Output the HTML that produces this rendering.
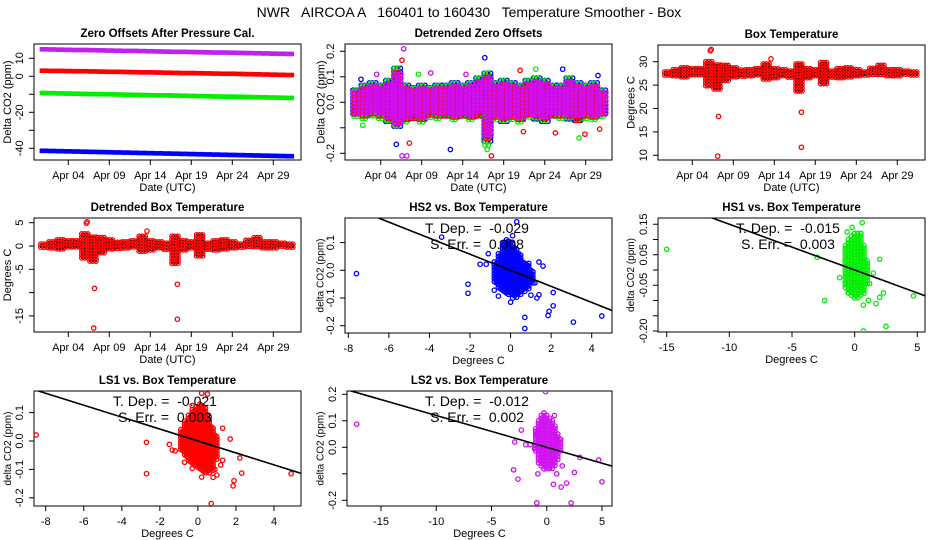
<!DOCTYPE html>
<html><head><meta charset="utf-8"><style>
html,body{margin:0;padding:0;background:#fff;}
svg{display:block;font-family:"Liberation Sans",Arial,sans-serif;}
</style></head><body>
<svg id="chart" width="936" height="540" viewBox="0 0 936 540" xmlns="http://www.w3.org/2000/svg">
<rect x="0" y="0" width="936" height="540" fill="#fff"/>
<text x="469" y="17" text-anchor="middle" font-size="14" style="white-space:pre">NWR   AIRCOA A   160401 to 160430   Temperature Smoother - Box</text>
</svg>
<script>
// ---- data ----
const dateTicks = [3, 8, 13, 18, 23, 28];
const dateTickLabels = ["Apr 04", "Apr 09", "Apr 14", "Apr 19", "Apr 24", "Apr 29"];
const ls2Offset = [15.0,14.9,14.8,14.7,14.6,14.6,14.5,14.4,14.3,14.2,14.1,14.1,14.0,13.9,13.8,13.7,13.6,13.6,13.5,13.4,13.3,13.2,13.2,13.1,13.0,12.9,12.8,12.7,12.6,12.5,12.4];
const ls1Offset = [3.1,3.0,3.0,2.9,2.8,2.8,2.7,2.6,2.5,2.5,2.4,2.3,2.2,2.2,2.1,2.0,1.9,1.8,1.8,1.7,1.6,1.5,1.4,1.4,1.3,1.2,1.1,1.0,0.9,0.8,0.7];
const hs1Offset = [-9.3,-9.4,-9.5,-9.6,-9.7,-9.8,-9.9,-9.9,-10.0,-10.1,-10.2,-10.3,-10.4,-10.5,-10.6,-10.6,-10.7,-10.8,-10.9,-11.0,-11.1,-11.2,-11.3,-11.3,-11.4,-11.5,-11.6,-11.7,-11.8,-11.9,-12.0];
const hs2Offset = [-41.4,-41.5,-41.6,-41.7,-41.8,-41.9,-42.0,-42.1,-42.2,-42.3,-42.4,-42.5,-42.6,-42.7,-42.8,-42.9,-43.0,-43.1,-43.2,-43.3,-43.4,-43.5,-43.6,-43.7,-43.8,-43.9,-44.0,-44.1,-44.2,-44.3,-44.4];
const detrendLo = [-0.06,-0.07,-0.06,-0.07,-0.08,-0.1,-0.08,-0.07,-0.08,-0.06,-0.07,-0.06,-0.07,-0.06,-0.07,-0.06,-0.17,-0.07,-0.08,-0.07,-0.08,-0.06,-0.07,-0.08,-0.06,-0.07,-0.07,-0.08,-0.07,-0.07,-0.06];
const detrendHi = [0.05,0.07,0.08,0.07,0.09,0.14,0.07,0.06,0.07,0.06,0.07,0.07,0.08,0.07,0.08,0.1,0.12,0.08,0.09,0.08,0.07,0.09,0.1,0.09,0.07,0.07,0.1,0.08,0.07,0.08,0.05];
const detrendOutT = [4.9,11.5,15.7,25.2,29.5,0.6,0.8,7.6,27.2,21.9,16.0,16.5,6.5,5.6,24.3,29.7,27.9,20.4,20.0,5.8,5.6,6.2,9.1,2.5,13.4];
const detrendOutV = [-0.165,-0.185,0.175,0.13,0.105,0.09,-0.09,0.11,-0.14,0.13,-0.185,-0.21,-0.16,0.165,-0.12,-0.105,-0.125,-0.115,0.125,0.21,-0.21,-0.21,0.115,0.11,0.11];
const detrendOutSeries = [3,3,3,3,3,3,2,2,2,2,2,1,1,1,1,1,1,1,1,0,0,0,0,0,0];
const boxLo = [26.8,26.5,26.6,26.8,26.8,24.8,23.8,25.5,26.5,26.8,26.8,26.6,26.3,26.5,26.7,26.7,23.5,26.5,26.6,25.0,26.7,26.0,26.5,26.5,26.8,26.7,26.8,26.9,26.9,26.9,26.9];
const boxHi = [27.8,28.3,28.7,28.5,28.5,30.0,29.3,29.2,28.7,28.2,28.3,28.5,29.5,28.5,28.3,28.0,29.5,28.5,28.3,29.8,28.0,28.5,28.7,28.3,27.8,28.6,29.2,28.3,28.3,28.0,27.8];
const boxOutT = [5.2,5.3,6.2,6.1,12.6,16.3,16.3,16.0];
const boxOutV = [32.3,32.6,18.3,9.8,30.6,19.2,11.7,24.0];
const boxTrend = 27.4;
// scatter panels
const hs2CoreX = [-0.8,-0.6,-0.4,-0.2,0,0.2,0.4,0.6,0.8,1.0];
const hs2CoreLo = [-0.05,-0.07,-0.08,-0.09,-0.09,-0.1,-0.09,-0.08,-0.07,-0.05];
const hs2CoreHi = [0.03,0.06,0.1,0.11,0.1,0.08,0.06,0.03,0.02,0.0];
const hs2OutX = [-7.6,-3.4,-2.1,-2.1,-1.5,-1.2,-1.1,-0.8,-0.6,0.3,0.1,0,0.1,0.7,0.7,1.0,1.3,1.4,1.4,1.6,1.2,2.1,2.1,1.9,1.85,3.1,4.5,0.9,0.8];
const hs2OutY = [-0.012,0.12,-0.05,-0.083,0.022,0.022,0.06,-0.072,-0.093,0.175,0.125,-0.115,-0.1,-0.17,-0.21,-0.09,-0.1,-0.088,0.03,0.015,-0.045,-0.08,-0.128,-0.148,-0.163,-0.187,-0.165,0.025,0.02];
const hs1CoreX = [-0.75,-0.5,-0.25,0,0.25,0.5,0.75,1.0];
const hs1CoreLo = [-0.06,-0.08,-0.09,-0.1,-0.1,-0.09,-0.08,-0.05];
const hs1CoreHi = [0.08,0.1,0.11,0.12,0.12,0.12,0.08,0.03];
const hs1OutX = [-15.0,-3.0,-2.4,-1.2,-0.5,-0.6,1.7,2.0,2.3,2.0,2.5,0.7,0.7,1.1,4.7,0.6,1.5,1.2,1.0,-0.2];
const hs1OutY = [0.068,0.042,-0.1,-0.025,-0.075,0.125,-0.11,0.035,-0.075,-0.09,-0.185,-0.2,-0.115,-0.1,-0.085,0.155,-0.01,-0.045,0.02,0.14];
const ls1CoreX = [-0.9,-0.7,-0.5,-0.3,-0.1,0.1,0.3,0.5,0.7,0.9];
const ls1CoreLo = [-0.03,-0.05,-0.07,-0.08,-0.09,-0.1,-0.11,-0.11,-0.1,-0.06];
const ls1CoreHi = [0.04,0.07,0.09,0.11,0.12,0.13,0.12,0.09,0.05,0.02];
const ls1OutX = [-8.5,-2.7,-2.7,-1.5,-1.35,-1.2,-0.9,-0.7,-0.3,0.2,0.7,0.8,1.0,1.2,1.3,1.3,1.7,2.2,2.3,1.9,1.85,4.9,0.2,0.5,-0.3,0.9];
const ls1OutY = [0.021,-0.005,-0.115,-0.012,-0.032,-0.035,-0.03,-0.075,-0.097,-0.127,-0.22,-0.128,-0.12,-0.085,-0.068,0.045,0.007,-0.06,-0.113,-0.14,-0.158,-0.115,0.168,0.165,0.125,-0.1];
const ls2CoreX = [-1.0,-0.75,-0.5,-0.25,0,0.25,0.5,0.75,1.0,1.25];
const ls2CoreLo = [-0.02,-0.06,-0.08,-0.09,-0.09,-0.09,-0.08,-0.07,-0.05,-0.02];
const ls2CoreHi = [0.06,0.1,0.12,0.13,0.12,0.11,0.1,0.08,0.05,0.03];
const ls2OutX = [-17.2,-2.9,-3.0,-2.6,-2.3,-1.9,-1.5,-1.0,-0.9,-0.8,-1.1,-0.9,-0.1,0.7,0.6,1.3,1.4,1.8,2.2,2.5,3.0,4.7,5.0,1.2,0.9];
const ls2OutY = [0.087,0.02,-0.085,-0.12,0.065,0.01,0.01,0.07,0.05,-0.1,-0.005,-0.21,0.21,0.12,-0.14,-0.15,-0.07,-0.135,-0.21,-0.095,-0.038,-0.048,-0.13,0.03,-0.1];
const slopes = [-0.029, -0.015, -0.021, -0.012];
const slopeLabels = ["T. Dep. =  -0.029", "T. Dep. =  -0.015", "T. Dep. =  -0.021", "T. Dep. =  -0.012"];
const errLabels = ["S. Err. =  0.008", "S. Err. =  0.003", "S. Err. =  0.003", "S. Err. =  0.002"];

// ---- helpers ----
const NS = "http://www.w3.org/2000/svg";
const svg = document.getElementById('chart');
function mk(tag, attrs, parent){
  const e = document.createElementNS(NS, tag);
  for (const k in attrs) e.setAttribute(k, attrs[k]);
  (parent || svg).appendChild(e);
  return e;
}
function lin(d0, p0, d1, p1){ return v => p0 + (v - d0) * (p1 - p0) / (d1 - d0); }
const COLORS = {red:'#ff0000', green:'#00ee00', blue:'#0000ff', purple:'#d010f0'};

function frame(P){
  const g = mk('g', {});
  
  
  const cp = mk('clipPath', {id: P.name + '-clip'}, g);
  mk('rect', {x: P.x0, y: P.y0, width: P.x1 - P.x0, height: P.y1 - P.y0}, cp);
  const t = mk('text', {x: (P.x0 + P.x1) / 2, y: P.y0 - 7, 'text-anchor': 'middle', 'font-size': 11.5, 'font-weight': 'bold'}, g);
  t.textContent = P.title;
  
  
  const box = mk('rect', {x: P.x0, y: P.y0, width: P.x1 - P.x0, height: P.y1 - P.y0, fill: 'none', stroke: '#000', 'stroke-width': 1}, g);
  
  
  P.xt.forEach((v, i) => {
    const x = P.xs(v);
    const tk = mk('line', {x1: x, x2: x, y1: P.y1, y2: P.y1 + 5, stroke: '#000'}, g);
    
    
    const lb = mk('text', {x: x, y: P.y1 + 19, 'text-anchor': 'middle', 'font-size': 11}, g);
    lb.textContent = P.xl[i];
    
    
  });
  P.yt.forEach((v, i) => {
    const y = P.ys(v);
    const tk = mk('line', {x1: P.x0 - 5, x2: P.x0, y1: y, y2: y, stroke: '#000'}, g);
    
    
    if (P.yl[i] !== '') {
      const lb = mk('text', {x: 0, y: 0, 'text-anchor': 'middle', 'font-size': 11, transform: `translate(${P.x0 - 11},${y}) rotate(-90)`}, g);
      lb.textContent = P.yl[i];
      
      
    }
  });
  const xt = mk('text', {x: (P.x0 + P.x1) / 2, y: P.y1 + 31, 'text-anchor': 'middle', 'font-size': 11}, g);
  xt.textContent = P.xtitle;
  
  
  const yt = mk('text', {x: 0, y: 0, 'text-anchor': 'middle', 'font-size': P.ytsize || 11, transform: `translate(${P.ytx},${(P.y0 + P.y1) / 2}) rotate(-90)`}, g);
  yt.textContent = P.ytitle;
  
  
  const plot = mk('g', {'clip-path': `url(#${P.name}-clip)`}, g);
  
  
  return plot;
}
function pt(g, x, y, color){
  const c = mk('circle', {cx: x.toFixed(1), cy: y.toFixed(1), r: 2.2, fill: 'none', stroke: color, 'stroke-width': 1.3}, g);
  
  
  return c;
}

// ---- Panel A: zero offsets ----
const A = {name: 'panel-zero-offsets', title: 'Zero Offsets After Pressure Cal.', x0: 34, x1: 301, y0: 44, y1: 160,
  xs: lin(3, 68.3, 28, 273.3), ys: lin(0, 76.3, 10, 58.3),
  xt: dateTicks, xl: dateTickLabels, yt: [-40,-30,-20,-10,0,10], yl: ['-40','','-20','','0','10'],
  xtitle: 'Date (UTC)', ytitle: 'Delta CO2 (ppm)', ytx: 11};
const gA = frame(A);
[[ls2Offset, '#c020f0', 'band-ls2'], [ls1Offset, COLORS.red, 'band-ls1'], [hs1Offset, COLORS.green, 'band-hs1'], [hs2Offset, COLORS.blue, 'band-hs2']].forEach(([arr, col, nm]) => {
  arr.forEach((v, i) => {
    const xa = A.xs(i - 0.5), xb = A.xs(i + 0.5);
    const r = mk('rect', {x: xa, y: A.ys(v + 1.3), width: xb - xa + 0.3, height: A.ys(v - 1.3) - A.ys(v + 1.3), fill: col}, gA);
    
    
  });
});

// ---- Panel B: detrended zero offsets ----
const B = {name: 'panel-detrended-zero', title: 'Detrended Zero Offsets', x0: 345, x1: 612, y0: 44, y1: 160,
  xs: lin(3, 380.7, 28, 585.7), ys: lin(0, 102.3, 0.1, 76.8),
  xt: dateTicks, xl: dateTickLabels, yt: [-0.2,-0.1,0,0.1,0.2], yl: ['-0.2','','0.0','0.1','0.2'],
  xtitle: 'Date (UTC)', ytitle: 'Delta CO2 (ppm)', ytx: 324.5};
const gB = frame(B);
const layerCols = [COLORS.blue, COLORS.green, COLORS.red, COLORS.purple];
const layerScale = [0.95, 1.0, 0.9, 0.8];
const layerShift = [0, 1.5, 2.5, 0.8];
const layerStep = [3.4, 3.6, 3.4, 4.0];
layerCols.forEach((col, li) => {
  detrendLo.forEach((lo, i) => {
    const hi = detrendHi[i];
    const ytop = B.ys(hi * layerScale[li]), ybot = B.ys(lo * layerScale[li]);
    for (let x = B.xs(i - 0.5) + 1 + layerShift[li] * 0.6; x < B.xs(i + 0.5); x += 3.2) {
      for (let y = ytop + layerShift[li]; y <= ybot; y += layerStep[li]) pt(gB, x, y, col);
    }
  });
});
detrendOutT.forEach((t, i) => pt(gB, B.xs(t), B.ys(detrendOutV[i]), [COLORS.purple, COLORS.red, COLORS.green, COLORS.blue][detrendOutSeries[i]]));

// ---- Panel C: box temperature ----
const C = {name: 'panel-box-temperature', title: 'Box Temperature', x0: 658, x1: 925, y0: 45, y1: 160,
  xs: lin(3, 692.3, 28, 897.3), ys: lin(30, 61.7, 10, 155.3),
  xt: dateTicks, xl: dateTickLabels, yt: [10,15,20,25,30], yl: ['10','15','20','25','30'],
  xtitle: 'Date (UTC)', ytitle: 'Degrees C', ytx: 634.5};
const gC = frame(C);
// ---- Panel D: detrended box temperature ----
const D = {name: 'panel-detrended-box-temp', title: 'Detrended Box Temperature', x0: 34, x1: 301, y0: 218, y1: 332,
  xs: lin(3, 68.3, 28, 273.3), ys: lin(0, 246, 5, 222.7),
  xt: dateTicks, xl: dateTickLabels, yt: [-15,-10,-5,0,5], yl: ['-15','','-5','0','5'],
  xtitle: 'Date (UTC)', ytitle: 'Degrees C', ytx: 11};
const gD = frame(D);
[[C, gC, 0], [D, gD, boxTrend]].forEach(([P, g, off]) => {
  boxLo.forEach((lo, i) => {
    const ytop = P.ys(boxHi[i] - off), ybot = P.ys(lo - off);
    for (let x = P.xs(i - 0.5) + 1.2; x < P.xs(i + 0.5); x += 3.0) {
      for (let y = ytop; y <= ybot + 0.1; y += 3.0) {
        pt(g, x, y, '#ff0000');
        const d = mk('circle', {cx: x.toFixed(1), cy: y.toFixed(1), r: 1.0, fill: '#000'}, g);
        
        
      }
    }
  });
  boxOutT.forEach((t, i) => pt(g, P.xs(t), P.ys(boxOutV[i] - off), '#ff0000'));
});

// ---- scatter panels ----
function scatter(P, coreX, coreLo, coreHi, outX, outY, col, k){
  const g = frame(P);
  const stepX = Math.abs(P.xs(coreX[1]) - P.xs(coreX[0]));
  coreX.forEach((cx, i) => {
    const x = P.xs(cx);
    for (let y = P.ys(coreHi[i]); y <= P.ys(coreLo[i]); y += 2.8) {
      pt(g, x, y, col);
      if (stepX > 3.5) pt(g, x + stepX / 2, y + 1.4, col);
    }
  });
  outX.forEach((x, i) => pt(g, P.xs(x), P.ys(outY[i]), col));
  const xa = P.xs.inv(P.x0), xb = P.xs.inv(P.x1);
  const ln = mk('line', {x1: P.x0, y1: P.ys(slopes[k] * xa), x2: P.x1, y2: P.ys(slopes[k] * xb), stroke: '#000', 'stroke-width': 1.6}, g);
  
  
  const t1 = mk('text', {x: P.tx, y: P.y0 + 15, 'text-anchor': 'middle', 'font-size': 14, style: 'white-space:pre'}, g.parentNode);
  t1.textContent = slopeLabels[k];
  
  
  const t2 = mk('text', {x: P.tx, y: P.y0 + 31, 'text-anchor': 'middle', 'font-size': 14, style: 'white-space:pre'}, g.parentNode);
  t2.textContent = errLabels[k];
  
  
}
function linInv(d0, p0, d1, p1){ const f = lin(d0, p0, d1, p1); f.inv = p => d0 + (p - p0) * (d1 - d0) / (p1 - p0); return f; }

scatter({name: 'panel-hs2-vs-temp', title: 'HS2 vs. Box Temperature', x0: 345, x1: 612, y0: 218, y1: 333,
  xs: linInv(-8, 348.3, 4, 591.7), ys: lin(0, 270.3, 0.1, 242.6),
  xt: [-8,-6,-4,-2,0,2,4], xl: ['-8','-6','-4','-2','0','2','4'], yt: [-0.2,-0.1,0,0.1], yl: ['-0.2','-0.1','0.0','0.1'],
  xtitle: 'Degrees C', ytitle: 'delta CO2 (ppm)', ytsize: 10, ytx: 323.5, tx: 477},
  hs2CoreX, hs2CoreLo, hs2CoreHi, hs2OutX, hs2OutY, COLORS.blue, 0);
scatter({name: 'panel-hs1-vs-temp', title: 'HS1 vs. Box Temperature', x0: 658, x1: 925, y0: 218, y1: 332,
  xs: linInv(-15, 666.7, 5, 917.3), ys: lin(0, 270, 0.1, 239.5),
  xt: [-15,-10,-5,0,5], xl: ['-15','-10','-5','0','5'], yt: [-0.2,-0.15,-0.1,-0.05,0,0.05,0.1,0.15], yl: ['-0.20','','','-0.05','','0.05','','0.15'],
  xtitle: 'Degrees C', ytitle: 'delta CO2 (ppm)', ytsize: 10, ytx: 634, tx: 788},
  hs1CoreX, hs1CoreLo, hs1CoreHi, hs1OutX, hs1OutY, COLORS.green, 1);
scatter({name: 'panel-ls1-vs-temp', title: 'LS1 vs. Box Temperature', x0: 34, x1: 301, y0: 391, y1: 506,
  xs: linInv(-8, 45.7, 4, 274), ys: lin(0, 441, 0.1, 412.6),
  xt: [-8,-6,-4,-2,0,2,4], xl: ['-8','-6','-4','-2','0','2','4'], yt: [-0.2,-0.1,0,0.1], yl: ['-0.2','-0.1','0.0','0.1'],
  xtitle: 'Degrees C', ytitle: 'delta CO2 (ppm)', ytsize: 10, ytx: 11, tx: 165},
  ls1CoreX, ls1CoreLo, ls1CoreHi, ls1OutX, ls1OutY, COLORS.red, 2);
scatter({name: 'panel-ls2-vs-temp', title: 'LS2 vs. Box Temperature', x0: 347, x1: 612, y0: 391, y1: 506,
  xs: linInv(-15, 381, 5, 602), ys: lin(0, 447.3, 0.1, 420.8),
  xt: [-15,-10,-5,0,5], xl: ['-15','-10','-5','0','5'], yt: [-0.2,-0.1,0,0.1,0.2], yl: ['-0.2','','0.0','0.1','0.2'],
  xtitle: 'Degrees C', ytitle: 'delta CO2 (ppm)', ytsize: 10, ytx: 323.5, tx: 477},
  ls2CoreX, ls2CoreLo, ls2CoreHi, ls2OutX, ls2OutY, COLORS.purple, 3);
</script>
</body></html>
